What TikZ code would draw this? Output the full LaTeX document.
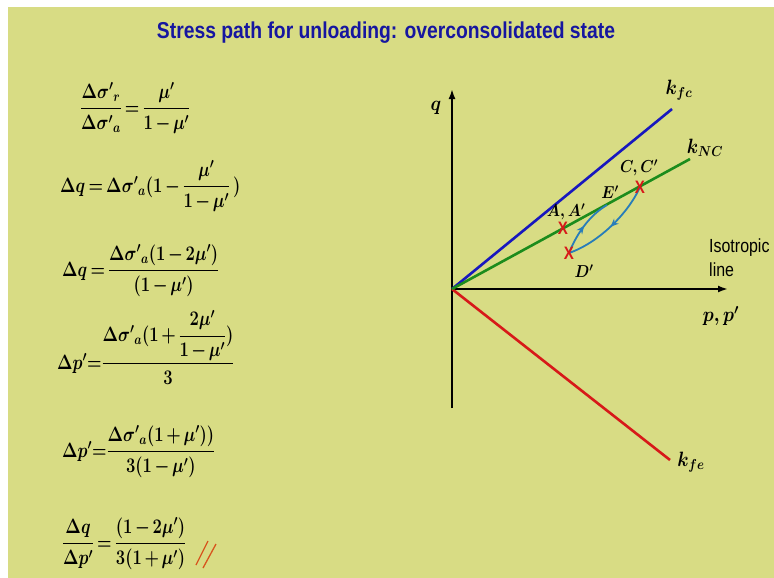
\documentclass[tikz,border=0pt]{standalone}
\usepackage{fontspec}
\usepackage{amsmath}
\usetikzlibrary{arrows.meta,decorations.markings}
\newfontfamily\narrowsf[FakeStretch=0.84]{Liberation Sans}
\definecolor{slidebg}{RGB}{216,220,132}
\definecolor{titleblue}{RGB}{22,22,160}
\definecolor{fcblue}{RGB}{24,24,190}
\definecolor{ncgreen}{RGB}{28,140,28}
\definecolor{fered}{RGB}{215,25,25}
\definecolor{pathblue}{RGB}{40,125,185}
\definecolor{tickred}{RGB}{215,85,30}

\begin{document}
\begin{tikzpicture}[x=1pt,y=-1pt,
  eqn/.style={anchor=base west,inner sep=0pt,xscale=0.8,transform shape,
    font=\fontsize{20}{24}\selectfont\boldmath,
    execute at begin node={\thickmuskip=3mu\medmuskip=2.5mu}},
  lbl/.style={inner sep=0pt,xscale=0.88,transform shape,font=\fontsize{20}{24}\selectfont\boldmath},
  ptlbl/.style={inner sep=0pt,xscale=0.88,transform shape,font=\fontsize{17}{20}\selectfont\boldmath},
  xmark/.style={inner sep=0pt,text=fered,font=\narrowsf\bfseries\fontsize{18}{18}\selectfont},
  axis/.style={-{Latex[length=10pt,width=7pt]},line width=2pt},
  kline/.style={line width=2.6pt},
  spath/.style={pathblue,line width=1.8pt,
    decoration={markings,mark=at position 0.5 with {\arrow{Stealth[length=8pt,width=7pt]}}},
    postaction=decorate}
]
\useasboundingbox (0,0) rectangle (774,578);
\fill[white] (0,0) rectangle (774,578);
\fill[slidebg] (8,7) rectangle (774,578);

\node[text=titleblue,font=\narrowsf\bfseries\fontsize{23}{27}\selectfont] (title) at (386,33)
  {Stress path for unloading: overconsolidated state};

% equations on the left
\node[eqn] (eq1) at (80,114) {$\dfrac{\Delta\sigma'{}_{r}}{\Delta\sigma'{}_{a}} = \dfrac{\mu'}{1-\mu'}$};
\node[eqn] (eq2) at (60,192) {$\Delta q = \Delta\sigma'{}_{a}(1-\dfrac{\mu'}{1-\mu'}\;)$};
\node[eqn] (eq3) at (62,276) {$\Delta q = \dfrac{\Delta\sigma'{}_{a}(1-2\mu')}{(1-\mu')}$};
\node[eqn] (eq4) at (57,369) {$\Delta p'{=}\dfrac{\Delta\sigma'{}_{a}(1+\dfrac{2\mu'}{1-\mu'})}{3}$};
\node[eqn] (eq5) at (62,457) {$\Delta p'{=}\dfrac{\Delta\sigma'{}_{a}(1+\mu'))}{3(1-\mu')}$};
\node[eqn] (eq6) at (62,549) {$\dfrac{\Delta q}{\Delta p'} = \dfrac{(1-2\mu')}{3(1+\mu')}$};

% tick marks
\draw[tickred,line width=1.3pt] (196,565) -- (208,541);
\draw[tickred,line width=1.3pt] (203,568) -- (216,544);

% axes
\coordinate (O) at (452,289);
\coordinate (qtop) at (452,89);
\coordinate (qbot) at (452,408);
\coordinate (pend) at (728,289);
\draw[line width=2pt] (qbot) -- (O);
\draw[axis] (O) -- (qtop);
\draw[axis] (O) -- (pend);
\node[lbl] (q) at (436,108) {$q$};
\node[lbl] (p) at (721,316) {$p,p'$};
\node[anchor=west,align=left,inner sep=0pt,font=\narrowsf\fontsize{19}{24}\selectfont] (iso) at (709,258)
  {Isotropic\\line};

% failure and NC lines
\coordinate (kfcend) at (672,109);
\coordinate (kncend) at (690,159);
\coordinate (kfeend) at (670,460);
\draw[kline,fcblue] (O) -- (kfcend);
\draw[kline,fered] (O) -- (kfeend);
\draw[kline,ncgreen] (O) -- (kncend);
\node[lbl] (kfc) at (679,90) {$k_{fc}$};
\node[lbl] (knc) at (705,148) {$k_{NC}$};
\node[lbl] (kfe) at (691,462) {$k_{fe}$};

% stress path points
\coordinate (A) at (563,228);
\coordinate (C) at (640,187);
\coordinate (D) at (569,253);
\coordinate (E) at (607,205);
\draw[spath] (C) .. controls (628,214) and (598,243) .. (D);
\draw[spath] (D) .. controls (577,233) and (590,215) .. (E);
\node[xmark] (Ax) at (A) {X};
\node[xmark] (Cx) at (C) {X};
\node[xmark] (Dx) at (D) {X};
\node[ptlbl] (Alb) at (566,212) {$A,A'$};
\node[ptlbl] (Clb) at (639,168) {$C,C'$};
\node[ptlbl] (Dlb) at (584,271) {$D'$};
\node[ptlbl] (Elb) at (610,192) {$E'$};
\end{tikzpicture}
\end{document}
